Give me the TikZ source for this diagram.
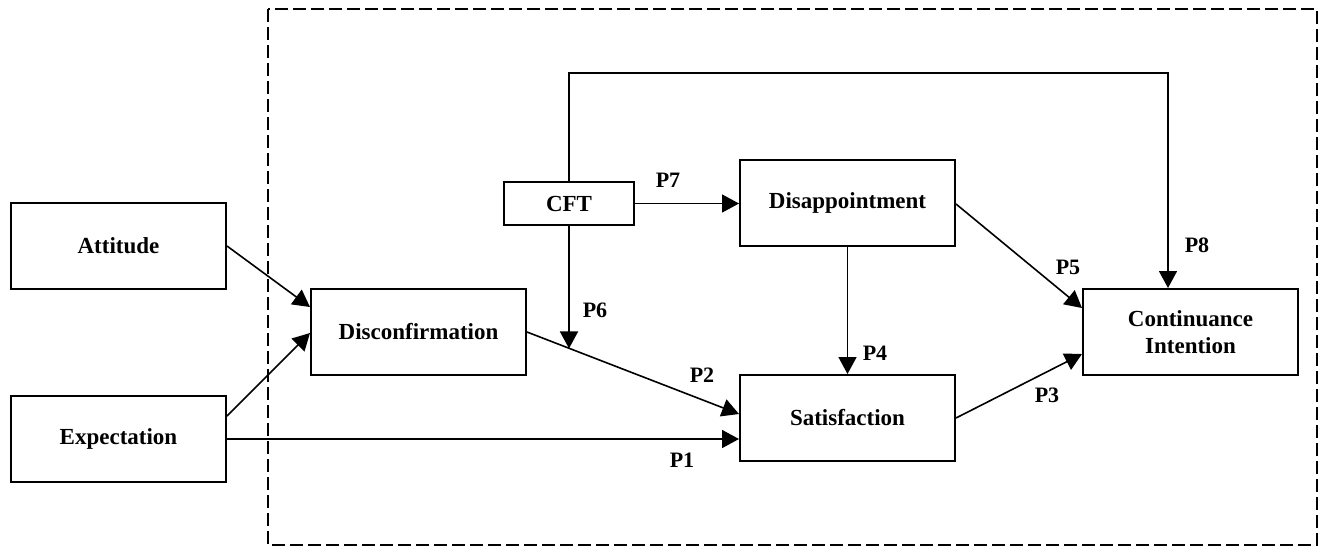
\documentclass[tikz,border=0pt]{standalone}
\usepackage{fontspec}
\setmainfont{Liberation Serif}
\usetikzlibrary{arrows.meta,calc}
\begin{document}
\begin{tikzpicture}[x=1pt,y=-1pt,
  box/.style={draw, line width=2pt, minimum width=215pt, minimum height=86pt, inner sep=0pt, anchor=north west,
    font=\fontsize{23}{27}\selectfont\bfseries, align=center},
  conn/.style={line width=1.6pt, -{Triangle[length=17pt,width=18pt]}},
  plab/.style={font=\fontsize{22}{25}\selectfont\bfseries, inner sep=0pt}]
\useasboundingbox (0,0) rectangle (1319,547);
\draw[line width=2pt, dash pattern=on 13pt off 5pt] (268,9) rectangle (1317,545);
\node[box] (att) at (10,202) {Attitude};
\node[box] (exp) at (10,395) {Expectation};
\node[box] (dis) at (310,288) {Disconfirmation};
\node[box, minimum width=130pt, minimum height=43pt] (cft) at (503,181) {CFT};
\node[box] (dap) at (739,159) {Disappointment};
\node[box] (sat) at (739,374) {Satisfaction};
\node[box] (con) at (1082,288) {Continuance\\Intention};
\coordinate (p8) at ($(con.north west)+(86,0)$);
\coordinate (p2end) at ($(sat.west)+(0,-4)$);
\coordinate (p6end) at ($(dis.east)!0.201!(p2end)$);
\draw[conn] (att.east) -- ($(dis.north west)+(0,19)$);
\draw[conn] ($(exp.east)+(0,-23)$) -- ($(dis.north west)+(0,45)$);
\draw[conn] (exp.east) -- (exp.east -| sat.west);
\draw[conn] (dis.east) -- (p2end);
\draw[conn] (cft.south) -- (cft.south |- p6end);
\draw[conn] (cft.east) -- (cft.east -| dap.west);
\draw[conn] (dap.south) -- (sat.north);
\draw[conn] ($(dap.east)+(0,1)$) -- ($(con.north west)+(0,20)$);
\draw[conn] (sat.east) -- ($(con.west)+(0,22)$);
\draw[conn] (cft.north) -- ++(0,-108) -| (p8);
\node[plab] (l1) at (682,460) {P1};
\node[plab] (l2) at (702,375) {P2};
\node[plab] (l3) at (1047,395) {P3};
\node[plab] (l4) at (875,353) {P4};
\node[plab] (l5) at (1068,267) {P5};
\node[plab] (l6) at (595,310) {P6};
\node[plab] (l7) at (668,180) {P7};
\node[plab] (l8) at (1197,245) {P8};
\end{tikzpicture}
\end{document}
